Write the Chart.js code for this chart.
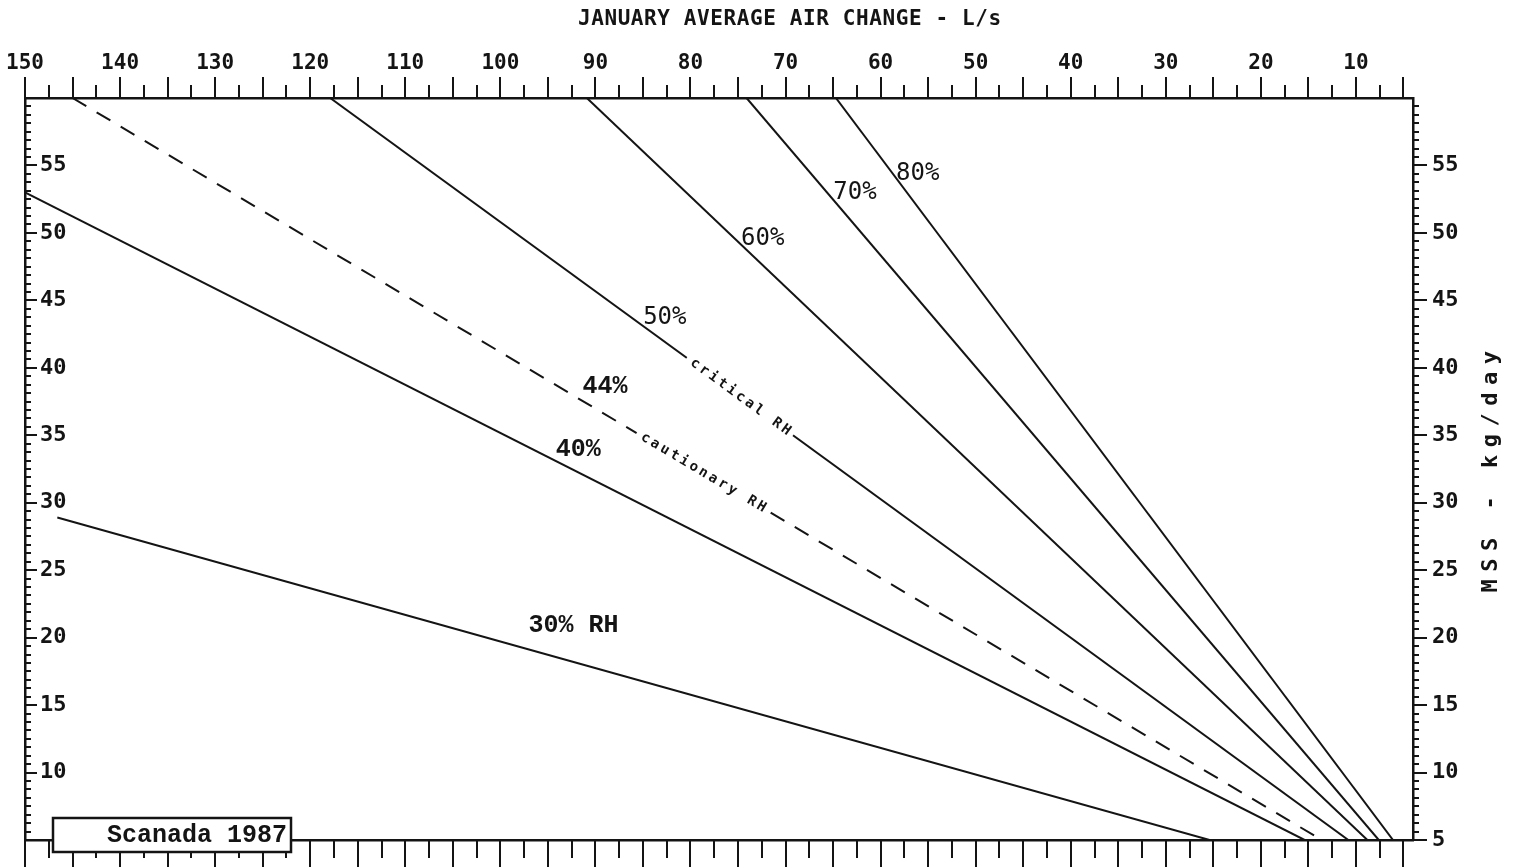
<!DOCTYPE html>
<html>
<head>
<meta charset="utf-8">
<script src="https://cdn.jsdelivr.net/npm/chart.js@4.4.1/dist/chart.umd.min.js"></script>
<style>
html,body{margin:0;padding:0;background:#fff;}
canvas{display:block;}
</style>
</head>
<body>
<canvas id="c" width="1516" height="867"></canvas>
<script>
// ---------------- data ----------------
const xAxisTickLabels = [150,140,130,120,110,100,90,80,70,60,50,40,30,20,10];
const yLeftTickLabels = [55,50,45,40,35,30,25,20,15,10];
const yRightTickLabels = [55,50,45,40,35,30,25,20,15,10,5];

// each RH line: [January average air change (L/s), MSS (kg/day)] at its two ends
const rh30 = [[146.6, 28.9], [25.4, 5]];
const rh40 = [[150.0, 53.0], [15.4, 5]];
const rh44 = [[145.0, 60.0], [13.6, 5]];
const rh50 = [[117.9, 60.0], [10.8, 5]];
const rh60 = [[90.9, 60.0], [8.8, 5]];
const rh70 = [[74.1, 60.0], [7.6, 5]];
const rh80 = [[64.7, 60.0], [6.1, 5]];
const seriesNames = ['30% RH','40%','44%','50%','60%','70%','80%'];
const seriesData = [rh30, rh40, rh44, rh50, rh60, rh70, rh80];

const ink = '#141414';

const datasets = seriesData.map((s, i) => ({
  label: seriesNames[i],
  data: s.map(p => ({x: p[0], y: p[1]})),
  showLine: true,
  borderColor: ink,
  borderWidth: 2,
  borderDash: i === 2 ? [16, 12] : [],
  pointRadius: 0,
  fill: false,
  tension: 0
}));

// y on a series for a given x (linear between its two ends)
function yOn(series, xv) {
  const [a, b] = series;
  return a[1] + (xv - a[0]) * (b[1] - a[1]) / (b[0] - a[0]);
}

// text annotations: anchor in data coordinates
const inlineLabels = [
  {text: '30% RH', x: 92.3, y: 20.9, font: 'bold 25px "Liberation Mono"'},
  {text: '40%',    x: 91.8, y: 33.9, font: 'bold 25px "Liberation Mono"'},
  {text: '44%',    x: 89.0, y: 38.6, font: 'bold 25px "Liberation Mono"'},
  {text: '50%',    x: 82.7, y: 43.7, font: '24px "DejaVu Sans Mono"'},
  {text: '60%',    x: 72.4, y: 49.6, font: '24px "DejaVu Sans Mono"'},
  {text: '70%',    x: 62.7, y: 53.0, font: '24px "DejaVu Sans Mono"'},
  {text: '80%',    x: 56.1, y: 54.4, font: '24px "DejaVu Sans Mono"'}
];
const alongLabels = [
  {text: 'critical RH',   series: rh50, x: 74.8},
  {text: 'cautionary RH', series: rh44, x: 78.7}
];

const decor = {
  id: 'decor',
  afterDraw(chart) {
    const {ctx, chartArea: ca, scales} = chart;
    const xs = scales.x, ys = scales.y;
    ctx.save();
    ctx.strokeStyle = ink;
    ctx.fillStyle = ink;
    ctx.lineWidth = 2;
    const seg = (x1, y1, x2, y2) => { ctx.beginPath(); ctx.moveTo(x1, y1); ctx.lineTo(x2, y2); ctx.stroke(); };
    const isMult = (v, m) => Math.abs(v / m - Math.round(v / m)) < 1e-6;

    // top and bottom tick marks
    for (let v = 5; v <= 150.0001; v += 2.5) {
      const px = Math.round(xs.getPixelForValue(v));
      const major = isMult(v, 5);
      seg(px, ca.top, px, ca.top - (major ? 21 : 13));
      seg(px, ca.bottom, px, ca.bottom + (major ? 27 : 18));
    }
    // left and right tick marks
    for (let v = 5; v <= 60.0001; v += 0.625) {
      const py = Math.round(ys.getPixelForValue(v));
      const major = isMult(v, 5);
      if (py <= ca.top + 2) continue;
      seg(ca.left, py, ca.left + (major && v >= 10 ? 12 : 6), py);
      seg(ca.right, py, ca.right + (major ? 14 : 6), py);
    }

    // inline labels
    ctx.textAlign = 'center';
    ctx.textBaseline = 'middle';
    inlineLabels.forEach(l => {
      ctx.font = l.font;
      ctx.fillText(l.text, xs.getPixelForValue(l.x), ys.getPixelForValue(l.y));
    });

    // labels written along a line (line interrupted under the text)
    alongLabels.forEach(l => {
      const [a, b] = l.series;
      const ang = Math.atan2(ys.getPixelForValue(b[1]) - ys.getPixelForValue(a[1]),
                             xs.getPixelForValue(b[0]) - xs.getPixelForValue(a[0]));
      const cx = xs.getPixelForValue(l.x), cy = ys.getPixelForValue(yOn(l.series, l.x));
      ctx.save();
      ctx.translate(cx, cy);
      ctx.rotate(ang);
      ctx.font = 'bold 14px "DejaVu Sans Mono"';
      ctx.letterSpacing = '2.8px';
      const w = ctx.measureText(l.text).width;
      ctx.fillStyle = '#fff';
      ctx.fillRect(-w / 2 - 4, -9, w + 8, 18);
      ctx.fillStyle = ink;
      ctx.fillText(l.text, 2, 0);
      ctx.restore();
    });

    // top axis title
    ctx.font = 'bold 21px "DejaVu Sans Mono"';
    ctx.letterSpacing = '0.6px';
    ctx.fillText('JANUARY AVERAGE AIR CHANGE - L/s', ca.left + 0.551 * (ca.right - ca.left), 20);

    // right axis title (reads bottom to top)
    ctx.save();
    ctx.translate(1491, 472);
    ctx.rotate(-Math.PI / 2);
    ctx.font = 'bold 22px "DejaVu Sans Mono"';
    ctx.letterSpacing = '7.5px';
    ctx.fillText('MSS - kg/day', 4, 0);
    ctx.restore();
    ctx.letterSpacing = '0px';

    // source box
    const bx = ca.left + 28, by = ca.bottom - 22, bw = 238, bh = 34;
    ctx.fillStyle = '#fff';
    ctx.fillRect(bx, by, bw, bh);
    ctx.lineWidth = 2.5;
    ctx.strokeRect(bx, by, bw, bh);
    ctx.fillStyle = ink;
    ctx.textAlign = 'right';
    ctx.font = 'bold 25px "Liberation Mono"';
    ctx.fillText('Scanada 1987', bx + bw - 4, by + bh / 2 + 1);
    ctx.restore();
  }
};

const axisBorder = {display: true, color: ink, width: 2.5};
const noGrid = {display: false, drawTicks: false};
const noPad = s => { s.paddingLeft = 0; s.paddingRight = 0; s.paddingTop = 0; s.paddingBottom = 0; };

new Chart(document.getElementById('c'), {
  type: 'scatter',
  data: {datasets},
  options: {
    responsive: false,
    animation: false,
    devicePixelRatio: 1,
    layout: {padding: 0},
    plugins: {legend: {display: false}, tooltip: {enabled: false}, title: {display: false}},
    scales: {
      x: {
        type: 'linear', position: 'top', reverse: true, min: 4, max: 150,
        afterBuildTicks: s => { s.ticks = xAxisTickLabels.map(v => ({value: v})); },
        afterFit: s => { s.height = 98; noPad(s); },
        grid: noGrid, border: axisBorder,
        ticks: {autoSkip: false, maxRotation: 0, padding: 22, color: ink,
                font: {family: 'DejaVu Sans Mono', size: 21, weight: 'bold'}}
      },
      x2: {
        type: 'linear', position: 'bottom', reverse: true, min: 4, max: 150,
        afterFit: s => { s.height = 27; noPad(s); },
        grid: noGrid, border: axisBorder,
        ticks: {display: false}
      },
      y: {
        type: 'linear', position: 'left', min: 5, max: 60,
        afterBuildTicks: s => { s.ticks = yLeftTickLabels.map(v => ({value: v})); },
        afterFit: s => { s.width = 25; noPad(s); },
        grid: noGrid, border: axisBorder,
        ticks: {mirror: true, padding: 15, color: ink,
                font: {family: 'DejaVu Sans Mono', size: 22, weight: 'bold'}}
      },
      y2: {
        type: 'linear', position: 'right', min: 5, max: 60,
        afterBuildTicks: s => { s.ticks = yRightTickLabels.map(v => ({value: v})); },
        afterFit: s => { s.width = 103; noPad(s); },
        grid: noGrid, border: axisBorder,
        ticks: {padding: 19, color: ink,
                font: {family: 'DejaVu Sans Mono', size: 22, weight: 'bold'}}
      }
    }
  },
  plugins: [decor]
});
</script>
</body>
</html>
